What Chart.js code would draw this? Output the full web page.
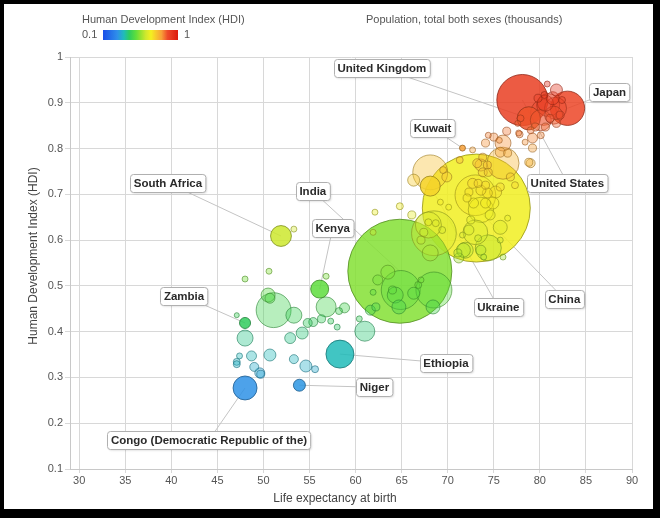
<!DOCTYPE html>
<html>
<head>
<meta charset="utf-8">
<script src="https://cdn.jsdelivr.net/npm/chart.js@4.4.1/dist/chart.umd.min.js"></script>
<style>
  html, body { margin: 0; padding: 0; background: #fff; }
  #frame { position: absolute; left: 0; top: 0; width: 660px; height: 518px; background: #000; }
  #inner { position: absolute; left: 4px; top: 4px; width: 649px; height: 505px; background: #fff; }
  #hdi { position: absolute; left: 0; top: 0; }
</style>
</head>
<body>
<div id="frame"><div id="inner"></div></div>
<canvas id="hdi" width="663" height="526"></canvas>
<script>
// countries, life expectancy, HDI and population (thousands)
var countries = [
  "United States","Japan","United Kingdom","Kuwait","China","India","Ukraine","South Africa","Kenya","Zambia","Ethiopia","Niger","Congo (Democratic Republic of the)",
  "Germany","France","Italy","Canada","Spain","Australia","Korea (Republic of)","","","","","","","","","","","","","","","","","","","",
  "","","","","","","Argentina","","","Mexico","","","","","","","","","","","Russian Federation","","","",
  "Brazil","Iran","Egypt","Viet Nam","","","","","","","","","","","","","","","","","","","","","","","","","","","",
  "Indonesia","Philippines","","","","","","","","","","Pakistan","Bangladesh","","","","","","","","","","","","","","","","","","","","",
  "Nigeria","","","","Tanzania","","","","","","","","","","Sudan","","","","","","","","","","","","","",""
];
var lifeExpectancy = [
  78.1, 83.0, 78.8, 71.6, 73.1, 64.8, 68.1, 51.9, 56.1, 48.0, 58.3, 53.9, 48.0,
  80.4, 80.9, 81.7, 80.6, 81.5, 81.4, 80.1, 81.8, 80.8, 79.8, 80.5, 81.1, 81.8, 82.2, 82.4, 79.5, 80.6, 79.0, 80.1, 77.9, 77.6, 76.4, 77.8, 78.4, 79.2, 79.2,
  74.4, 75.0, 74.1, 75.6, 77.7, 78.8, 76.0, 76.5, 75.7, 76.0, 72.7, 71.3, 69.5, 73.8, 73.2, 74.3, 73.8, 74.4, 76.8, 79.0, 68.1, 66.3, 69.9, 73.6,
  73.0, 73.6, 73.0, 74.4, 75.7, 71.9, 76.5, 77.3, 75.7, 75.2, 74.3, 74.1, 73.3, 72.7, 72.3, 72.1, 72.8, 74.1, 74.9, 73.6, 74.6, 72.5, 72.3, 73.3, 71.6, 70.1, 69.2, 75.7, 73.9, 76.0, 71.2,
  68.5, 67.9, 68.1, 67.1, 67.4, 67.9, 68.7, 69.4, 71.1, 71.7, 73.6, 64.9, 68.5, 63.5, 62.4, 64.3, 64.7, 66.3, 67.1, 66.8, 61.9, 62.2, 61.6, 68.4, 61.9, 64.0, 62.1, 64.8, 66.1, 50.6, 48.0, 56.8, 53.3,
  51.1, 50.5, 50.7, 53.3, 56.8, 58.2, 58.8, 57.3, 58.0, 56.3, 55.4, 54.8, 54.2, 52.9, 61.0, 60.4, 47.1, 48.0, 48.7, 47.4, 47.1, 47.1, 50.7, 53.3, 54.6, 55.6, 49.0, 49.6, 49.7
];
var hdiIndex = [
  0.906, 0.888, 0.866, 0.801, 0.670, 0.532, 0.718, 0.609, 0.493, 0.419, 0.351, 0.283, 0.277,
  0.879, 0.895, 0.888, 0.899, 0.873, 0.910, 0.862, 0.928, 0.941, 0.910, 0.917, 0.866, 0.855, 0.873, 0.906, 0.847, 0.847, 0.840, 0.829, 0.866, 0.855, 0.838, 0.831, 0.814, 0.823, 0.801,
  0.829, 0.825, 0.812, 0.818, 0.834, 0.770, 0.812, 0.790, 0.792, 0.768, 0.797, 0.775, 0.753, 0.781, 0.768, 0.764, 0.748, 0.748, 0.738, 0.768, 0.748, 0.731, 0.738, 0.764,
  0.698, 0.666, 0.617, 0.583, 0.628, 0.578, 0.648, 0.720, 0.716, 0.705, 0.703, 0.720, 0.724, 0.724, 0.705, 0.692, 0.681, 0.681, 0.681, 0.709, 0.655, 0.644, 0.622, 0.604, 0.611, 0.672, 0.683, 0.600, 0.563, 0.563, 0.561,
  0.615, 0.633, 0.572, 0.600, 0.617, 0.639, 0.637, 0.622, 0.572, 0.578, 0.578, 0.491, 0.491, 0.530, 0.513, 0.480, 0.454, 0.484, 0.513, 0.502, 0.486, 0.454, 0.447, 0.454, 0.617, 0.491, 0.661, 0.674, 0.655, 0.532, 0.515, 0.521, 0.624,
  0.447, 0.480, 0.473, 0.436, 0.454, 0.445, 0.452, 0.423, 0.410, 0.428, 0.421, 0.419, 0.397, 0.386, 0.401, 0.428, 0.436, 0.386, 0.347, 0.347, 0.334, 0.329, 0.349, 0.340, 0.325, 0.318, 0.323, 0.310, 0.307
];
var population = [
  300000, 135000, 62000, 4100, 1340000, 1243000, 46000, 50000, 37000, 14000, 90000, 16500, 66000,
  77700, 60800, 55600, 29400, 37200, 19400, 50700, 16500, 4100, 7400, 5600, 7400, 7400, 7400, 5600, 7400, 7400, 5600, 5600, 5600, 4100, 7400, 5600, 4100, 11500, 7400,
  4100, 7400, 7400, 4100, 4100, 7400, 29400, 7400, 11500, 118000, 4100, 5600, 5600, 7400, 9300, 7400, 9300, 7400, 7400, 9300, 140000, 16500, 11500, 16500,
  190000, 74000, 70000, 78000, 22500, 29400, 4100, 5600, 7400, 16500, 11500, 7400, 7400, 11500, 7400, 7400, 11500, 11500, 16500, 11500, 11500, 7400, 11500, 5600, 4100, 4100, 4100, 4100, 4100, 4100, 11500,
  230000, 78000, 29400, 7400, 7400, 5600, 5600, 5600, 7400, 22500, 11500, 175000, 149000, 22500, 11500, 29400, 22500, 16500, 4100, 5600, 4100, 7400, 11500, 22500, 4100, 7400, 4100, 5600, 7400, 4100, 4100, 4100, 4100,
  140000, 22500, 11500, 29400, 46000, 5600, 11500, 4100, 4100, 7400, 9300, 9300, 16500, 13900, 46000, 4100, 2900, 29400, 11500, 4100, 5600, 5600, 16500, 9300, 16500, 5600, 9300, 11500, 7400
];
var xTicks = [30, 35, 40, 45, 50, 55, 60, 65, 70, 75, 80, 85, 90];
var yTicks = [0.1, 0.2, 0.3, 0.4, 0.5, 0.6, 0.7, 0.8, 0.9, 1];
var labelled = ["United Kingdom","Japan","Kuwait","United States","South Africa","India","Kenya","Zambia","Ukraine","China","Ethiopia","Niger","Congo (Democratic Republic of the)"];
// where each callout box sits, in pixels from its bubble
var labelOffsets = [[-147,-50],[42,-16],[-30,-20],[45,83],[-113,-53],[-87,-80],[13,-61],[-61,-27],[68,121],[88,91],[106,9],[75,2],[-36,52]];

var hdiStops = [[0,'#1a4fe8'],[0.19,'#2f8fea'],[0.28,'#20bcb8'],[0.35,'#2dcc5f'],[0.44,'#60de3c'],[0.5,'#96e230'],
  [0.57,'#d0e82e'],[0.64,'#f4f020'],[0.7,'#f7cc2c'],[0.78,'#f8a038'],[0.86,'#ee4a2a'],[1,'#dc1a0c']];
function rgbOf(h) { return [parseInt(h.substr(1,2),16), parseInt(h.substr(3,2),16), parseInt(h.substr(5,2),16)]; }
function hdiColor(v) {
  var f = Math.max(0, Math.min(1, (v - 0.1) / 0.9));
  for (var i = 1; i < hdiStops.length; i++) {
    if (f <= hdiStops[i][0]) {
      var a = hdiStops[i-1], b = hdiStops[i], t = (f - a[0]) / (b[0] - a[0]);
      var ca = rgbOf(a[1]), cb = rgbOf(b[1]);
      return [0,1,2].map(function(k){ return Math.round(ca[k] + (cb[k]-ca[k])*t); });
    }
  }
  return rgbOf(hdiStops[hdiStops.length-1][1]);
}
function isLabelled(p) { return p && labelled.indexOf(p.name) >= 0; }
function fillFor(ctx) {
  var p = ctx.raw; if (!p) return 'rgba(0,0,0,0)';
  var c = hdiColor(p.y);
  return 'rgba(' + c.join(',') + ',' + (isLabelled(p) ? 0.85 : 0.38) + ')';
}
function strokeFor(ctx) {
  var p = ctx.raw; if (!p) return 'rgba(0,0,0,0)';
  var c = hdiColor(p.y).map(function(v){ return Math.round(v*0.62); });
  return 'rgba(' + c.join(',') + ',' + (isLabelled(p) ? 0.8 : 0.6) + ')';
}

// big bubbles first, as the picture has small ones on top
var order = population.map(function(v, i){ return i; }).sort(function(a, b){ return population[b] - population[a]; });
var points = order.map(function(i){
  return { x: lifeExpectancy[i], y: hdiIndex[i], r: 1.475 * Math.sqrt(population[i] / 1000), name: countries[i] };
});

function labelAnchors(chart) {
  var meta = chart.getDatasetMeta(0), out = [];
  labelled.forEach(function(name, k){
    var idx = -1;
    points.forEach(function(p, j){ if (p.name === name) idx = j; });
    if (idx < 0) return;
    var el = meta.data[idx];
    out.push({ name: name, px: el.x, py: el.y, bx: el.x + labelOffsets[k][0], by: el.y + labelOffsets[k][1] });
  });
  return out;
}

var leaderLines = {
  id: 'leaderLines',
  beforeDatasetsDraw: function(chart) {
    var ctx = chart.ctx;
    ctx.save();
    ctx.strokeStyle = '#c4c4c4';
    ctx.lineWidth = 1;
    labelAnchors(chart).forEach(function(a){
      ctx.beginPath(); ctx.moveTo(a.bx, a.by); ctx.lineTo(a.px, a.py); ctx.stroke();
    });
    ctx.restore();
  }
};

var calloutBoxes = {
  id: 'calloutBoxes',
  afterDatasetsDraw: function(chart) {
    var ctx = chart.ctx;
    ctx.save();
    ctx.font = 'bold 11.5px "Liberation Sans", Arial, sans-serif';
    ctx.textAlign = 'center';
    ctx.textBaseline = 'middle';
    labelAnchors(chart).forEach(function(a){
      var w = ctx.measureText(a.name).width + 7, h = 18;
      var x = Math.round(a.bx - w/2) + 0.5, y = Math.round(a.by - h/2) + 0.5;
      ctx.beginPath();
      ctx.roundRect(x, y, w, h, 3);
      ctx.fillStyle = '#ffffff';
      ctx.shadowColor = 'rgba(0,0,0,0.15)';
      ctx.shadowOffsetX = 1; ctx.shadowOffsetY = 1; ctx.shadowBlur = 2;
      ctx.fill();
      ctx.shadowColor = 'transparent';
      ctx.strokeStyle = '#b0b0b0';
      ctx.lineWidth = 1;
      ctx.stroke();
      ctx.fillStyle = '#2a2a2a';
      ctx.fillText(a.name, a.bx, a.by + 0.5);
    });
    ctx.restore();
  }
};

var hdiLegend = {
  id: 'hdiLegend',
  afterDraw: function(chart) {
    var ctx = chart.ctx;
    ctx.save();
    ctx.font = '11px "Liberation Sans", Arial, sans-serif';
    ctx.fillStyle = '#555';
    ctx.textBaseline = 'middle';
    ctx.textAlign = 'left';
    ctx.fillText('Human Development Index (HDI)', 82, 20);
    ctx.fillText('Population, total both sexes (thousands)', 366, 20);
    ctx.fillText('0.1', 82, 35);
    ctx.fillText('1', 184, 35);
    var g = ctx.createLinearGradient(103, 0, 178, 0);
    hdiStops.forEach(function(s){ g.addColorStop(s[0], s[1]); });
    ctx.fillStyle = g;
    ctx.fillRect(103, 30, 75, 10);
    // axis titles
    ctx.font = '12px "Liberation Sans", Arial, sans-serif';
    ctx.fillStyle = '#444';
    ctx.textAlign = 'center';
    ctx.fillText('Life expectancy at birth', 335, 499);
    ctx.translate(34, 256);
    ctx.rotate(-Math.PI/2);
    ctx.fillText('Human Development Index (HDI)', 0, 0);
    ctx.restore();
  }
};

var tickFont = { family: '"Liberation Sans", Arial, sans-serif', size: 11 };

new Chart(document.getElementById('hdi'), {
  type: 'bubble',
  data: {
    datasets: [{ data: points, backgroundColor: fillFor, borderColor: strokeFor, borderWidth: 1, clip: false }]
  },
  options: {
    responsive: false,
    animation: false,
    events: [],
    layout: { autoPadding: false, padding: { top: 57, right: 31, bottom: 0, left: 0 } },
    plugins: { legend: { display: false }, tooltip: { enabled: false } },
    scales: {
      x: {
        type: 'linear', min: 29, max: 90,
        afterBuildTicks: function(s){ s.ticks = xTicks.map(function(v){ return { value: v }; }); },
        afterFit: function(s){ s.height = 57; },
        ticks: { font: tickFont, color: '#555', padding: 1, maxRotation: 0, autoSkip: false },
        grid: { color: '#d8d8d8', tickLength: 4 },
        border: { color: '#c8c8c8' }
      },
      y: {
        type: 'linear', min: 0.1, max: 1,
        afterBuildTicks: function(s){ s.ticks = yTicks.map(function(v){ return { value: v }; }); },
        afterFit: function(s){ s.width = 70; },
        ticks: { font: tickFont, color: '#555', padding: 2, autoSkip: false,
          callback: function(v){ return String(+Number(v).toFixed(1)); } },
        grid: { color: '#d8d8d8', tickLength: 5 },
        border: { color: '#c8c8c8' }
      }
    }
  },
  plugins: [leaderLines, calloutBoxes, hdiLegend]
});
</script>
</body>
</html>
